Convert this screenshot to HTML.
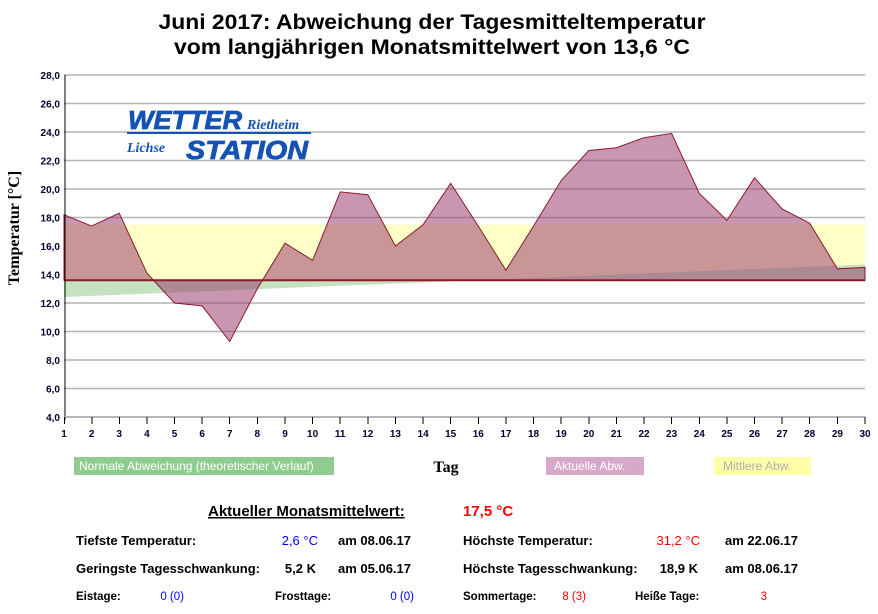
<!DOCTYPE html>
<html><head><meta charset="utf-8"><style>
body{margin:0;background:#fff;width:878px;height:609px;overflow:hidden}
text{font-family:"Liberation Sans",sans-serif}
</style></head><body>
<svg width="878" height="609" xmlns="http://www.w3.org/2000/svg">
<text x="432" y="29" text-anchor="middle" font-size="21" font-weight="bold" textLength="547" lengthAdjust="spacingAndGlyphs">Juni 2017: Abweichung der Tagesmitteltemperatur</text>
<text x="432" y="54" text-anchor="middle" font-size="21" font-weight="bold" textLength="516" lengthAdjust="spacingAndGlyphs">vom langjährigen Monatsmittelwert von 13,6 °C</text>
<g stroke="#b4b4b4" stroke-width="1.5">
<line x1="64" x2="865" y1="75" y2="75"/><line x1="64" x2="865" y1="103.5" y2="103.5"/><line x1="64" x2="865" y1="132" y2="132"/><line x1="64" x2="865" y1="160.5" y2="160.5"/><line x1="64" x2="865" y1="189" y2="189"/><line x1="64" x2="865" y1="217.5" y2="217.5"/><line x1="64" x2="865" y1="246" y2="246"/><line x1="64" x2="865" y1="274.5" y2="274.5"/><line x1="64" x2="865" y1="303" y2="303"/><line x1="64" x2="865" y1="331.5" y2="331.5"/><line x1="64" x2="865" y1="360" y2="360"/><line x1="64" x2="865" y1="388.5" y2="388.5"/><line x1="64" x2="865" y1="417" y2="417"/>
</g>
<rect x="64" y="224.6" width="801" height="55.6" fill="#ffffc8"/>
<polygon points="64,280 64,297 865,264.5 865,280" fill="#c4e2c0"/>
<polygon fill="#9a3f70" fill-opacity="0.55" stroke="#8b1a2a" stroke-width="1" points="64,280.2 64,214.7 91.6,226.1 119.2,213.2 146.9,273.1 174.5,303 202.1,305.9 229.7,341.5 257.3,288.8 285,243.2 312.6,260.3 340.2,191.9 367.8,194.7 395.4,246 423.1,224.6 450.7,183.3 478.3,226.1 505.9,270.2 533.5,226.1 561.2,180.5 588.8,150.5 616.4,147.7 644,137.7 671.6,133.4 699.3,193.3 726.9,220.4 754.5,177.7 782.1,209 809.7,223.2 837.4,268.8 865,267.4 865,280.2"/>
<line x1="64" x2="865" y1="280.2" y2="280.2" stroke="#8b1a2a" stroke-width="2"/>
<line x1="65" x2="65" y1="75" y2="420" stroke="#000" stroke-width="1"/>
<g font-size="10" font-weight="bold" fill="#000030" text-anchor="end">
<text x="60" y="79">28,0</text><text x="60" y="107.5">26,0</text><text x="60" y="136">24,0</text><text x="60" y="164.5">22,0</text><text x="60" y="193">20,0</text><text x="60" y="221.5">18,0</text><text x="60" y="250">16,0</text><text x="60" y="278.5">14,0</text><text x="60" y="307">12,0</text><text x="60" y="335.5">10,0</text><text x="60" y="364">8,0</text><text x="60" y="392.5">6,0</text><text x="60" y="421">4,0</text>
</g>
<text transform="translate(19,228) rotate(-90)" text-anchor="middle" font-size="16" font-weight="bold" style="font-family:'Liberation Serif',serif">Temperatur [°C]</text>
<g fill="#1452b4" font-style="italic" font-weight="bold">
<text x="128" y="129" font-size="26" textLength="114" lengthAdjust="spacingAndGlyphs" stroke="#1452b4" stroke-width="0.8">WETTER</text>
<text x="247" y="129" font-size="14" style="font-family:'Liberation Serif',serif">Rietheim</text>
<rect x="127" y="132" width="184" height="2"/>
<text x="127" y="152" font-size="14" style="font-family:'Liberation Serif',serif">Lichse</text>
<text x="186" y="159" font-size="26" textLength="122" lengthAdjust="spacingAndGlyphs" stroke="#1452b4" stroke-width="0.8">STATION</text>
</g>
<rect x="74" y="457" width="260" height="18" fill="#8fcc8f"/>
<text x="79" y="470" font-size="12" fill="#fff">Normale Abweichung (theoretischer Verlauf)</text>
<text x="446" y="472" text-anchor="middle" font-size="16" font-weight="bold" style="font-family:'Liberation Serif',serif">Tag</text>
<rect x="546" y="457" width="98" height="18" fill="#d8a8c8"/>
<text x="554" y="470" font-size="12" fill="#fff">Aktuelle Abw.</text>
<rect x="714" y="457" width="97" height="18" fill="#ffffa8"/>
<text x="723" y="470" font-size="12" fill="#b0b0b0">Mittlere Abw.</text>
<g font-size="13">
<text x="208" y="516" font-size="15" font-weight="bold" text-decoration="underline">Aktueller Monatsmittelwert:</text>
<text x="463" y="516" font-size="15" font-weight="bold" fill="#ff0000">17,5 °C</text>
<text x="76" y="545" font-weight="bold">Tiefste Temperatur:</text>
<text x="318" y="545" fill="#0000ff" text-anchor="end">2,6 °C</text>
<text x="338" y="545" font-weight="bold">am 08.06.17</text>
<text x="463" y="545" font-weight="bold">Höchste Temperatur:</text>
<text x="700" y="545" fill="#ff0000" text-anchor="end">31,2 °C</text>
<text x="725" y="545" font-weight="bold">am 22.06.17</text>
<text x="76" y="573" font-weight="bold">Geringste Tagesschwankung:</text>
<text x="316" y="573" font-weight="bold" text-anchor="end">5,2 K</text>
<text x="338" y="573" font-weight="bold">am 05.06.17</text>
<text x="463" y="573" font-weight="bold">Höchste Tagesschwankung:</text>
<text x="698" y="573" font-weight="bold" text-anchor="end">18,9 K</text>
<text x="725" y="573" font-weight="bold">am 08.06.17</text>
<g font-size="11.5">
<text x="76" y="600" font-weight="bold">Eistage:</text>
<text x="184" y="600" fill="#0000ff" text-anchor="end">0 (0)</text>
<text x="275" y="600" font-weight="bold">Frosttage:</text>
<text x="414" y="600" fill="#0000ff" text-anchor="end">0 (0)</text>
<text x="463" y="600" font-weight="bold">Sommertage:</text>
<text x="586" y="600" fill="#ff0000" text-anchor="end">8 (3)</text>
<text x="635" y="600" font-weight="bold">Heiße Tage:</text>
<text x="767" y="600" fill="#ff0000" text-anchor="end">3</text>
</g>
</g>
<line x1="64" x2="865" y1="417" y2="417" stroke="#aaa" stroke-width="1.5"/>
<g fill="#000030" font-size="10" font-weight="bold" text-anchor="middle">
<text x="64" y="437">1</text><text x="91.6" y="437">2</text><text x="119.2" y="437">3</text><text x="146.9" y="437">4</text><text x="174.5" y="437">5</text><text x="202.1" y="437">6</text><text x="229.7" y="437">7</text><text x="257.3" y="437">8</text><text x="285" y="437">9</text><text x="312.6" y="437">10</text><text x="340.2" y="437">11</text><text x="367.8" y="437">12</text><text x="395.4" y="437">13</text><text x="423.1" y="437">14</text><text x="450.7" y="437">15</text><text x="478.3" y="437">16</text><text x="505.9" y="437">17</text><text x="533.5" y="437">18</text><text x="561.2" y="437">19</text><text x="588.8" y="437">20</text><text x="616.4" y="437">21</text><text x="644" y="437">22</text><text x="671.6" y="437">23</text><text x="699.3" y="437">24</text><text x="726.9" y="437">25</text><text x="754.5" y="437">26</text><text x="782.1" y="437">27</text><text x="809.7" y="437">28</text><text x="837.4" y="437">29</text><text x="865" y="437">30</text>
</g>
<path stroke="#000" stroke-width="1" d="M64.5 417v7M92 417v7M119.5 417v7M147 417v7M174.5 417v7M202 417v7M229.5 417v7M257.5 417v7M285 417v7M312.5 417v7M340 417v7M368 417v7M395.5 417v7M423 417v7M450.5 417v7M478.5 417v7M506 417v7M533.5 417v7M561 417v7M589 417v7M616.5 417v7M644 417v7M671.5 417v7M699.5 417v7M727 417v7M754.5 417v7M782 417v7M809.5 417v7M837.5 417v7M865 417v7"/>
</svg>
</body></html>
